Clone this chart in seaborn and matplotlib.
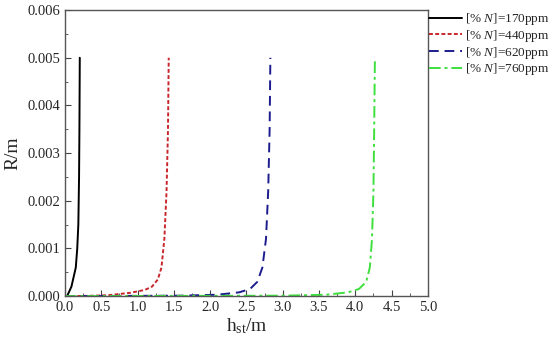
import numpy as np
import pandas as pd
import seaborn as sns
import matplotlib.pyplot as plt
from matplotlib.ticker import MultipleLocator

labels = ['[% $\\it{N}$]=170ppm', '[% $\\it{N}$]=440ppm', '[% $\\it{N}$]=620ppm', '[% $\\it{N}$]=760ppm']

h_170 = [0.03, 0.06, 0.09, 0.12, 0.15, 0.17, 0.185, 0.195, 0.2, 0.205]
r_170 = [0.0, 0.0001, 0.0002, 0.0004, 0.0006, 0.001, 0.0015, 0.0025, 0.0035, 0.005]

h_440 = [0.0, 0.3, 0.6, 0.9, 1.1, 1.2, 1.28, 1.33, 1.37, 1.40, 1.42, 1.43]
r_440 = [0.0, 0.000005, 0.00002, 0.00007, 0.00013, 0.0002, 0.00035, 0.0006, 0.0012, 0.0022, 0.0035, 0.005]

h_620 = [0.0, 0.8, 1.6, 2.1, 2.4, 2.55, 2.65, 2.72, 2.77, 2.80, 2.82, 2.83]
r_620 = [0.0, 0.000005, 0.00001, 0.00003, 0.00008, 0.00015, 0.0003, 0.0006, 0.0012, 0.0022, 0.0035, 0.005]

h_760 = [0.0, 1.5, 3.0, 3.6, 3.9, 4.05, 4.15, 4.20, 4.23, 4.25, 4.26, 4.27]
r_760 = [0.0, 0.000005, 0.00001, 0.00003, 0.00008, 0.00015, 0.0003, 0.0006, 0.0012, 0.0022, 0.0035, 0.005]

series = [(h_170, r_170), (h_440, r_440), (h_620, r_620), (h_760, r_760)]
colors = ['black', '#c8262c', '#1c1c8e', '#3ee03e']
styles = ['-', (0, (2, 1.2)), (0, (5, 3)), (0, (6, 2, 1.5, 2))]

sns.set_style('ticks')
plt.rcParams['font.family'] = ['Liberation Serif', 'DejaVu Serif']
plt.rcParams['mathtext.fontset'] = 'custom'
plt.rcParams['mathtext.it'] = 'Liberation Serif:italic'
plt.rcParams['mathtext.rm'] = 'Liberation Serif'

fig = plt.figure(figsize=(5.5, 3.48), dpi=100)
ax = fig.add_axes([0.118, 0.149, 0.66, 0.822])

for (h, r), lab, c, ls in zip(series, labels, colors, styles):
    df = pd.DataFrame({'h': h, 'R': r})
    sns.lineplot(data=df, x='h', y='R', sort=False, color=c, linestyle=ls, linewidth=1.4, label=lab, ax=ax)

ax.set_xlim(0, 5)
ax.set_ylim(0, 0.006)
ax.xaxis.set_major_locator(MultipleLocator(0.5))
ax.xaxis.set_minor_locator(MultipleLocator(0.25))
ax.yaxis.set_major_locator(MultipleLocator(0.001))
ax.yaxis.set_minor_locator(MultipleLocator(0.0005))
ax.yaxis.set_major_formatter(plt.FormatStrFormatter('%.3f'))
ax.xaxis.set_major_formatter(plt.FormatStrFormatter('%.1f'))
ax.tick_params(which='both', direction='in', labelsize=10.5, color='#444444')
ax.tick_params(which='major', length=4)
ax.tick_params(which='minor', length=2.5)
for s in ax.spines.values():
    s.set_color('#555555')
    s.set_linewidth(1)

ax.set_xlabel('h$_{\\mathrm{st}}$/m', fontsize=14, labelpad=2)
ax.set_ylabel('R/m', fontsize=14, labelpad=4)

ax.legend(loc='upper left', bbox_to_anchor=(1.0, 1.0), frameon=False, fontsize=9.5,
          handlelength=2.5, handletextpad=0.2, labelspacing=0.05, borderaxespad=0, borderpad=0.1)

fig.savefig('out.png', dpi=100)
